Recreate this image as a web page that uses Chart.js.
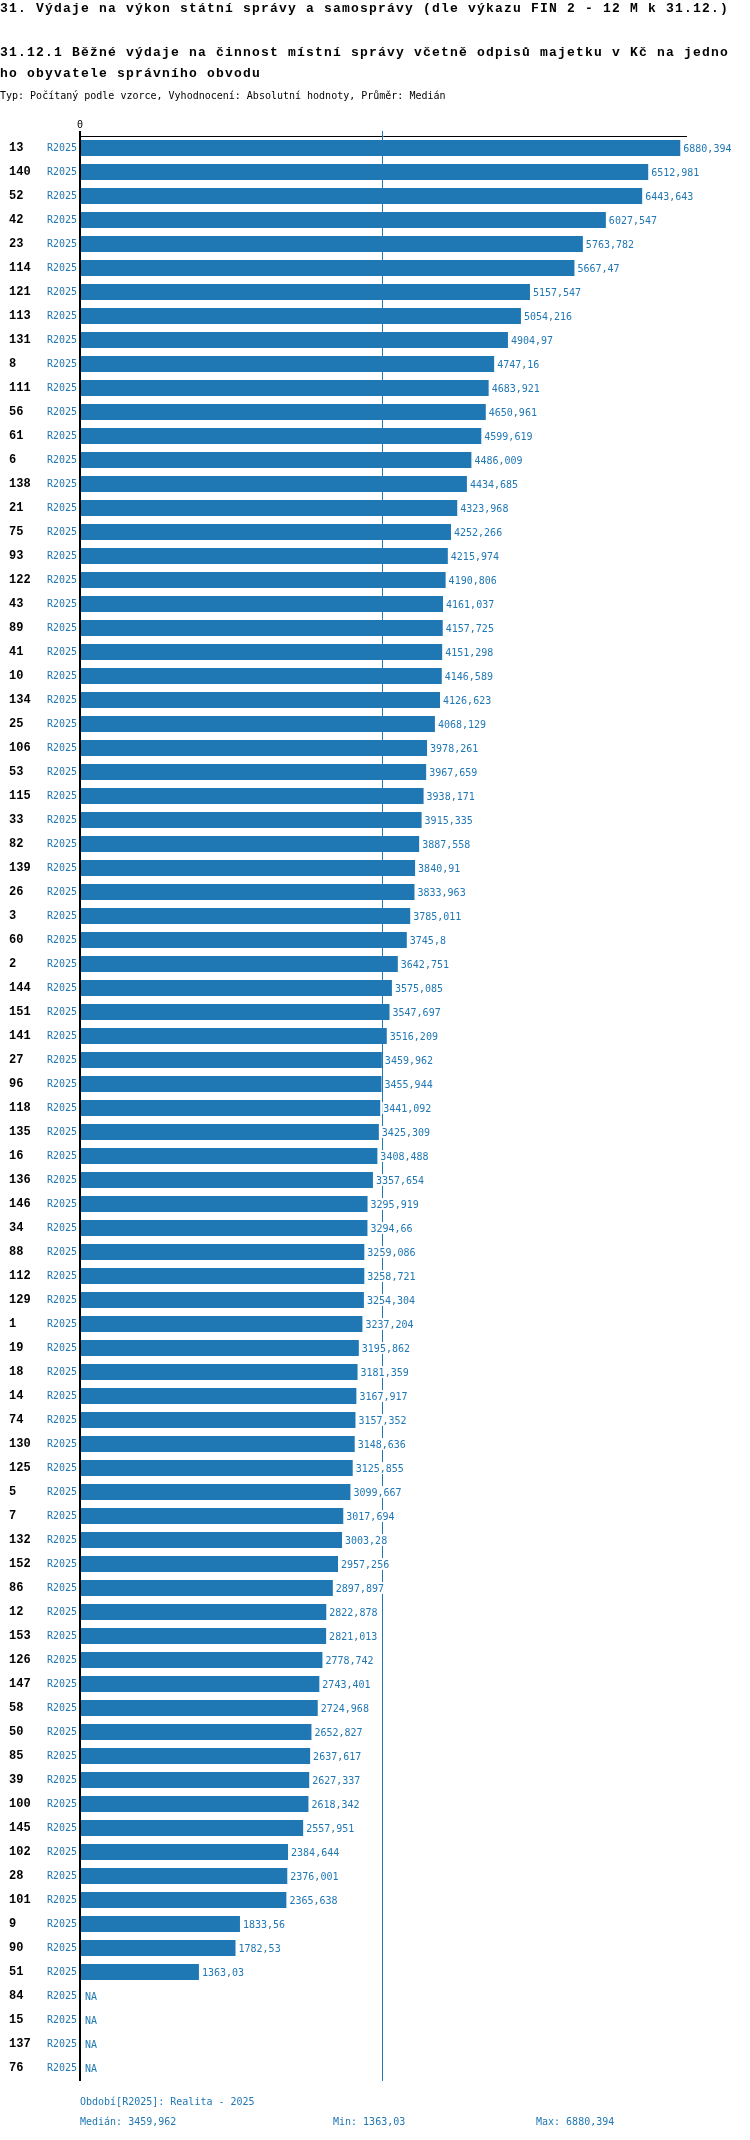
<!DOCTYPE html>
<html>
<head>
<meta charset="utf-8">
<script src="https://cdn.jsdelivr.net/npm/chart.js@4/dist/chart.umd.min.js"></script>
<style>
body { margin: 0; background: #fff; }
#wrap { position: relative; width: 750px; height: 2140px; }
.txt { position: absolute; left: 0; white-space: pre; font-family: "DejaVu Sans Mono", monospace; }
#title, #subtitle { font-family: "Liberation Mono", monospace; font-size: 13px; letter-spacing: 1.2px; font-weight: bold; }
#title { top: 0; line-height: 17px; }
#subtitle { top: 42px; line-height: 21px; }
#typ { top: 90px; font-size: 10px; line-height: 12px; }
.foot { font-size: 10px; line-height: 12px; color: #1f77b4; }
</style>
</head>
<body>
<div id="wrap">
<canvas id="chart" width="750" height="2140"></canvas>
<div class="txt" id="title">31. Výdaje na výkon státní správy a samosprávy (dle výkazu FIN 2 - 12 M k 31.12.)</div>
<div class="txt" id="subtitle">31.12.1 Běžné výdaje na činnost místní správy včetně odpisů majetku v Kč na jedno<br>ho obyvatele správního obvodu</div>
<div class="txt" id="typ">Typ: Počítaný podle vzorce, Vyhodnocení: Absolutní hodnoty, Průměr: Medián</div>
<div class="txt foot" id="period" style="left:80px; top:2096px;"></div>
<div class="txt foot" id="fmed" style="left:80px; top:2116px;"></div>
<div class="txt foot" id="fmin" style="left:333px; top:2116px;"></div>
<div class="txt foot" id="fmax" style="left:536px; top:2116px;"></div>
</div>
<script>
// obvody (row labels), sorted as in the report
var names = ['13', '140', '52', '42', '23', '114', '121', '113', '131', '8',
    '111', '56', '61', '6', '138', '21', '75', '93', '122', '43',
    '89', '41', '10', '134', '25', '106', '53', '115', '33', '82',
    '139', '26', '3', '60', '2', '144', '151', '141', '27', '96',
    '118', '135', '16', '136', '146', '34', '88', '112', '129', '1',
    '19', '18', '14', '74', '130', '125', '5', '7', '132', '152',
    '86', '12', '153', '126', '147', '58', '50', '85', '39', '100',
    '145', '102', '28', '101', '9', '90', '51', '84', '15', '137', '76'];

var values = [6880.394, 6512.981, 6443.643, 6027.547, 5763.782, 5667.47, 5157.547, 5054.216, 4904.97, 4747.16,
    4683.921, 4650.961, 4599.619, 4486.009, 4434.685, 4323.968, 4252.266, 4215.974, 4190.806, 4161.037,
    4157.725, 4151.298, 4146.589, 4126.623, 4068.129, 3978.261, 3967.659, 3938.171, 3915.335, 3887.558,
    3840.91, 3833.963, 3785.011, 3745.8, 3642.751, 3575.085, 3547.697, 3516.209, 3459.962, 3455.944,
    3441.092, 3425.309, 3408.488, 3357.654, 3295.919, 3294.66, 3259.086, 3258.721, 3254.304, 3237.204,
    3195.862, 3181.359, 3167.917, 3157.352, 3148.636, 3125.855, 3099.667, 3017.694, 3003.28, 2957.256,
    2897.897, 2822.878, 2821.013, 2778.742, 2743.401, 2724.968, 2652.827, 2637.617, 2627.337, 2618.342,
    2557.951, 2384.644, 2376.001, 2365.638, 1833.56, 1782.53, 1363.03, null, null, null, null];

var period = 'R2025';
var periodText = 'Realita - 2025';
var xTicks = [0];
var xMax = 6946;

const blue = '#1f77b4';
const mono = '"DejaVu Sans Mono", monospace';
const monoBold = '"Liberation Mono", monospace';

function fmt(v)
{
    return String(v).replace('.', ',');
}

var valid = values.filter(function(v){return v != null;});
var sorted = valid.slice().sort(function(a, b){return a - b;});
var median = sorted[Math.floor(sorted.length / 2)];
var minV = sorted[0];
var maxV = sorted[sorted.length - 1];

document.getElementById('period').textContent = 'Období[' + period + ']: ' + periodText;
document.getElementById('fmed').textContent = 'Medián: ' + fmt(median);
document.getElementById('fmin').textContent = 'Min: ' + fmt(minV);
document.getElementById('fmax').textContent = 'Max: ' + fmt(maxV);

// median line goes behind the bars
const medianLine = {
    id: 'medianLine',
    beforeDatasetsDraw: function(chart) {
	var ctx = chart.ctx;
	var area = chart.chartArea;
	var x = Math.round(chart.scales.x.getPixelForValue(median)) + 0.5;
	ctx.save();
	ctx.strokeStyle = blue;
	ctx.lineWidth = 1;
	ctx.beginPath();
	ctx.moveTo(x, area.top - 5);
	ctx.lineTo(x, area.bottom + 1);
	ctx.stroke();
	ctx.restore();
    }
};

// value labels at bar ends, white box behind
const valueLabels = {
    id: 'valueLabels',
    afterDatasetsDraw: function(chart) {
	var ctx = chart.ctx;
	var meta = chart.getDatasetMeta(0);
	var xs = chart.scales.x;
	ctx.save();
	ctx.font = '10px ' + mono;
	ctx.textBaseline = 'middle';
	ctx.textAlign = 'left';
	values.forEach(function(v, i) {
	    var y = chart.scales.y.getPixelForValue(i);
	    var txt, x;
	    if (v == null) {
		txt = 'NA';
		x = xs.getPixelForValue(0) + 5;
	    } else {
		txt = fmt(v);
		x = meta.data[i].x + 3;
	    }
	    var w = ctx.measureText(txt).width;
	    ctx.fillStyle = '#fff';
	    ctx.fillRect(x - 1, y - 6, w + 2, 12);
	    ctx.fillStyle = blue;
	    ctx.fillText(txt, x, y + 1);
	});
	ctx.restore();
    }
};

new Chart(document.getElementById('chart'), {
    type: 'bar',
    data: {
	labels: names,
	datasets: [{
	    data: values,
	    backgroundColor: blue,
	    borderWidth: 0,
	    barPercentage: 1,
	    categoryPercentage: 0.667,
	    yAxisID: 'y'
	}]
    },
    options: {
	indexAxis: 'y',
	responsive: false,
	animation: false,
	layout: {
	    padding: {left: 9, right: 64, top: 110, bottom: 60}
	},
	plugins: {
	    legend: {display: false},
	    tooltip: {enabled: false}
	},
	scales: {
	    x: {
		type: 'linear',
		position: 'top',
		min: 0,
		max: xMax,
		afterBuildTicks: function(scale) {
		    scale.ticks = xTicks.map(function(t){return {value: t};});
		},
		afterFit: function(scale) { scale.height = 26; },
		ticks: {
		    font: {family: mono, size: 10},
		    color: '#000',
		    padding: 0,
		    maxRotation: 0
		},
		grid: {
		    drawOnChartArea: false,
		    drawTicks: true,
		    tickLength: 5,
		    color: '#000',
		    lineWidth: 2
		},
		border: {display: true, color: '#000', width: 1}
	    },
	    y: {
		type: 'category',
		position: 'left',
		weight: 2,
		offset: true,
		afterFit: function(scale) { scale.width = 38; },
		ticks: {
		    autoSkip: false,
		    crossAlign: 'far',
		    padding: 0,
		    color: '#000',
		    font: {family: monoBold, size: 12, weight: 'bold'}
		},
		grid: {display: false, drawTicks: false},
		border: {display: false}
	    },
	    period: {
		type: 'category',
		position: 'left',
		weight: 1,
		offset: true,
		labels: names.map(function(){return period;}),
		afterFit: function(scale) { scale.width = 33; },
		ticks: {
		    autoSkip: false,
		    padding: 3,
		    color: blue,
		    font: {family: mono, size: 10}
		},
		grid: {drawOnChartArea: false, drawTicks: false, offset: true},
		border: {display: true, color: '#000', width: 2}
	    }
	}
    },
    plugins: [medianLine, valueLabels]
});
</script>
</body>
</html>
